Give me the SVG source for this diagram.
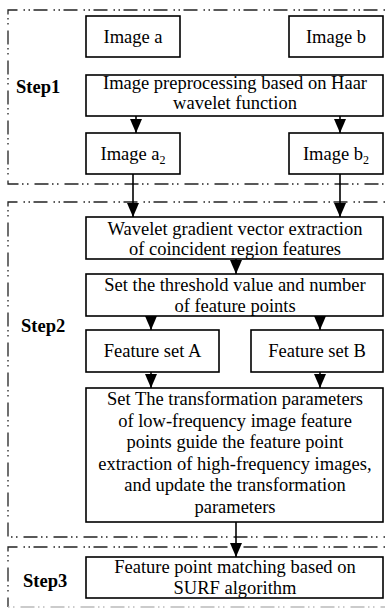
<svg xmlns="http://www.w3.org/2000/svg" width="385" height="611" viewBox="0 0 385 611">
<style>
.bx{fill:#fff;stroke:#000;stroke-width:1.6}
.t{font-family:"Liberation Serif","Times New Roman",serif;font-size:18.5px;fill:#000;text-anchor:middle}
.s{font-family:"Liberation Serif","Times New Roman",serif;font-size:18.5px;font-weight:bold;fill:#000}
.brd{fill:none;stroke:#222;stroke-width:1.3;stroke-dasharray:1.5 3.5 1.5 6 14 3.5}
.brd2{fill:none;stroke:#bbb;stroke-width:1.3;stroke-dasharray:1.5 3.5 1.5 6 14 3.5}
.c{stroke:#000;stroke-width:1.6;fill:none;marker-end:url(#ah)}
</style>
<defs>
<marker id="ah" markerWidth="14" markerHeight="12" refX="14" refY="6" orient="auto" markerUnits="userSpaceOnUse" viewBox="0 0 14 12">
<path d="M0,0 L14,6 L0,12 Z" fill="#000"/>
</marker>
</defs>
<rect width="385" height="611" fill="#fff"/>
<g id="borders">
<path class="brd" d="M390,10 H8 V184 H390"/>
<path class="brd" d="M390,202 H8 V537 H390"/>
<path class="brd" d="M390,547 H8 V607"/>
<path class="brd2" d="M8,607 H390"/>
</g>
<g id="labels">
<text class="s" x="16" y="93">Step1</text>
<text class="s" x="21" y="332">Step2</text>
<text class="s" x="23" y="587">Step3</text>
</g>
<g id="imageA"><rect class="bx" x="86" y="16" width="94" height="41"/><text class="t" x="133" y="43">Image a</text></g>
<g id="imageB"><rect class="bx" x="289" y="16" width="94" height="41"/><text class="t" x="336" y="43">Image b</text></g>
<g id="preproc"><rect class="bx" x="86" y="75" width="297" height="41"/><text class="t" x="235" y="89">Image preprocessing based on Haar</text><text class="t" x="235" y="109">wavelet function</text></g>
<g id="imageA2"><rect class="bx" x="86" y="133" width="94" height="41"/><text class="t" x="133" y="160">Image a<tspan font-size="12" dy="4">2</tspan></text></g>
<g id="imageB2"><rect class="bx" x="289" y="133" width="94" height="41"/><text class="t" x="336" y="160">Image b<tspan font-size="12" dy="4">2</tspan></text></g>
<g id="wavelet"><rect class="bx" x="86" y="217" width="297" height="42"/><text class="t" x="235" y="235">Wavelet gradient vector extraction</text><text class="t" x="235" y="255">of coincident region features</text></g>
<g id="threshold"><rect class="bx" x="86" y="274" width="297" height="42"/><text class="t" x="235" y="291">Set the threshold value and number</text><text class="t" x="235" y="312">of feature points</text></g>
<g id="featA"><rect class="bx" x="86" y="330" width="133" height="42"/><text class="t" x="152.5" y="357">Feature set A</text></g>
<g id="featB"><rect class="bx" x="251" y="330" width="132" height="42"/><text class="t" x="317" y="357">Feature set B</text></g>
<g id="transform"><rect class="bx" x="86" y="388" width="297" height="134"/>
<text class="t" x="235" y="405">Set The transformation parameters</text>
<text class="t" x="235" y="427">of low-frequency image feature</text>
<text class="t" x="235" y="448">points guide the feature point</text>
<text class="t" x="235" y="470">extraction of high-frequency images,</text>
<text class="t" x="235" y="491">and update the transformation</text>
<text class="t" x="235" y="513">parameters</text></g>
<g id="surf"><rect class="bx" x="86" y="557" width="297" height="41"/><text class="t" x="235" y="573">Feature point matching based on</text><text class="t" x="235" y="594">SURF algorithm</text></g>
<g id="connectors">
<line class="c" x1="136" y1="116" x2="136" y2="133"/>
<line class="c" x1="340" y1="116" x2="340" y2="133"/>
<line class="c" x1="133" y1="174" x2="133" y2="217"/>
<line class="c" x1="340" y1="174" x2="340" y2="217"/>
<line class="c" x1="236" y1="259" x2="236" y2="274"/>
<line class="c" x1="151" y1="316" x2="151" y2="330"/>
<line class="c" x1="320" y1="316" x2="320" y2="330"/>
<line class="c" x1="151" y1="372" x2="151" y2="388"/>
<line class="c" x1="320" y1="372" x2="320" y2="388"/>
<line class="c" x1="236" y1="522" x2="236" y2="557"/>
</g>
</svg>
